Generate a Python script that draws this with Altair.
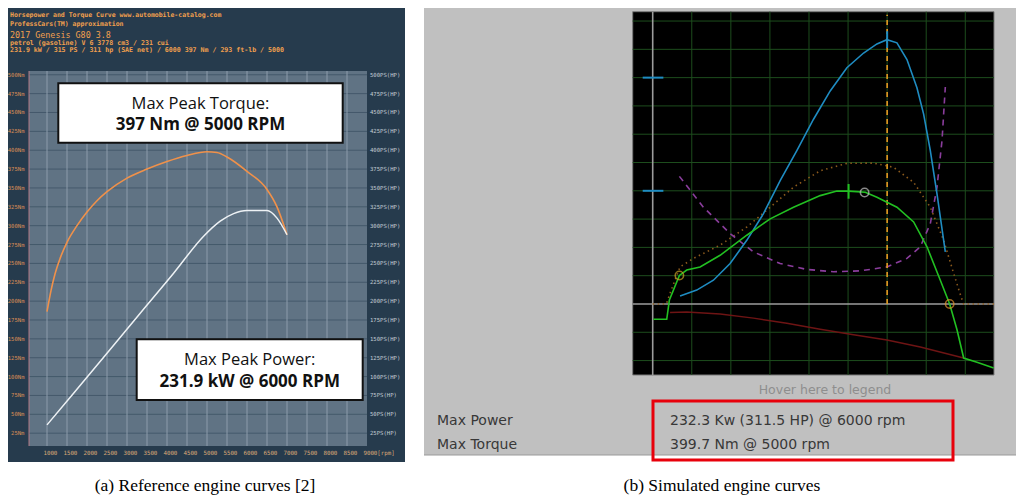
import altair as alt
import pandas as pd

# ---------------- (a) reference engine curves ----------------
ref_torque_rpm = [1000, 1100, 1200, 1330, 1500, 1750, 2000, 2250, 2500, 3000, 3500, 4000, 4500, 5000, 5250, 5500, 6000, 6500, 6750, 7000]
ref_torque_nm = [186, 214, 236, 257, 278, 300, 318, 333, 345, 363, 375, 385, 393, 398, 397, 391, 372, 348, 325, 288]
ref_power_rpm = [1000, 1665, 2500, 3330, 4165, 4915, 5330, 5665, 6000, 6250, 6500, 6750, 7000]
ref_power_ps = [36, 78, 131, 184, 237, 286, 306, 316, 320, 320, 320, 310, 288]

nm_ticks = list(range(25, 501, 25))
rpm_ticks = list(range(1000, 9001, 500))
rpm_grid = list(range(1000, 8501, 500))

header_lines = [
    "Horsepower and Torque Curve www.automobile-catalog.com",
    "ProfessCars(TM) approximation",
    "2017 Genesis G80 3.8",
    "petrol (gasoline) V 6 3778 cm3 / 231 cui",
    "231.9 kW / 315 PS / 311 hp  (SAE net) / 6000 397 Nm / 293 ft-lb / 5000",
]
torque_box = ["Max Peak Torque:", "397 Nm @ 5000 RPM"]
power_box = ["Max Peak Power:", "231.9 kW @ 6000 RPM"]

# ---------------- (b) simulated engine curves ----------------
sim_power_rpm = [700, 1127, 1554, 1981, 2408, 2835, 3262, 3689, 4116, 4543, 4970, 5397, 5739, 5995, 6251, 6507, 6763, 6934, 7105, 7276, 7489]
sim_power_val = [0.28, 0.49, 0.84, 1.43, 2.25, 3.19, 4.36, 5.42, 6.53, 7.53, 8.35, 8.87, 9.19, 9.34, 9.23, 8.64, 7.64, 6.71, 5.42, 3.89, 1.84]

sim_torque_rpm = [17, 359, 427, 530, 683, 871, 1213, 1725, 2408, 3006, 3604, 4287, 4714, 5013, 5440, 5739, 6251, 6678, 7020, 7361, 7600, 7788, 7959, 8300, 8727]
sim_torque_val = [-0.54, -0.54, 0.14, 0.49, 1.01, 1.20, 1.31, 1.72, 2.43, 3.01, 3.42, 3.83, 3.99, 3.99, 3.95, 3.77, 3.42, 2.90, 2.02, 0.84, 0.0, -0.91, -1.91, -2.06, -2.26]

sim_dotted_rpm = [0, 350, 444, 700, 1042, 1725, 2408, 3006, 3604, 4287, 4970, 5653, 6166, 6678, 7105, 7447, 7703, 7891, 7959, 8735]
sim_dotted_val = [0.0, 0.0, 0.38, 1.31, 1.61, 2.08, 2.72, 3.42, 4.13, 4.71, 4.97, 4.98, 4.83, 4.30, 3.42, 2.25, 1.08, 0.26, 0.0, 0.0]

sim_dashed_rpm = [683, 1298, 1981, 2579, 3262, 3945, 4628, 5312, 5995, 6507, 6849, 7105, 7276, 7404, 7489]
sim_dashed_val = [4.51, 3.42, 2.49, 1.84, 1.43, 1.22, 1.14, 1.17, 1.31, 1.61, 2.02, 2.84, 4.13, 5.77, 7.67]

sim_loss_rpm = [444, 871, 1725, 2579, 3433, 4287, 5141, 5995, 6849, 7959]
sim_loss_val = [-0.30, -0.28, -0.35, -0.50, -0.68, -0.89, -1.09, -1.27, -1.52, -1.91]

sim_grid_rpm = [1000, 2000, 3000, 4000, 5000, 6000, 7000, 8000]
sim_grid_val = [-2, -1, 1, 2, 3, 4, 5, 6, 7, 8, 9, 10]

sim_marker_rpm = [683, 5423, 7600]
sim_marker_val = [1.01, 3.94, 0.0]
sim_marker_kind = ["start", "peak", "end"]

sim_blue_ticks_val = [8, 4]
sim_peak_power_rpm = 6000
sim_peak_torque_rpm = 5013

result_labels = ["Max Power", "Max Torque"]
result_values = ["232.3 Kw (311.5 HP) @ 6000 rpm", "399.7 Nm @ 5000 rpm"]
captions = ["(a) Reference engine curves [2]", "(b) Simulated engine curves"]

# ---------------- helpers ----------------
one = pd.DataFrame({"k": [0]})


def series(xs, ys):
    return pd.DataFrame({"x": xs, "y": ys, "i": list(range(len(xs)))})


def rect(x, x2, y, y2, fill, stroke=None, sw=0):
    kw = dict(fill=fill, strokeWidth=sw)
    if stroke:
        kw["stroke"] = stroke
    return alt.Chart(one).mark_rect(**kw).encode(
        x=alt.value(x), x2=alt.value(x2), y=alt.value(y), y2=alt.value(y2))


def text(s, x, y, size, color, font, weight="normal", align="left"):
    return alt.Chart(one).mark_text(
        text=s, fontSize=size, color=color, font=font, fontWeight=weight,
        align=align, baseline="middle").encode(x=alt.value(x), y=alt.value(y))


# ---------------- left panel ----------------
xL = alt.Scale(domain=[550, 9000], range=[21, 359], nice=False, zero=False)
yL = alt.Scale(domain=[8, 505], range=[438, 63], nice=False, zero=False)

dark = rect(0, 397, 0, 454, "#263b4d")
slate = rect(21, 359, 63, 438, "#607384")
left_edge = alt.Chart(one).mark_rule(color="#b07a86", strokeWidth=1).encode(
    x=alt.value(21), y=alt.value(63), y2=alt.value(438))

hgrid = alt.Chart(pd.DataFrame({"v": nm_ticks})).mark_rule(color="#44596b", strokeWidth=1).encode(
    y=alt.Y("v:Q", scale=yL, axis=None), x=alt.value(21), x2=alt.value(359))
vgrid = alt.Chart(pd.DataFrame({"r": rpm_grid})).mark_rule(color="#8c9cab", strokeWidth=1).encode(
    x=alt.X("r:Q", scale=xL, axis=None), y=alt.value(63), y2=alt.value(438))

torque_line = alt.Chart(series(ref_torque_rpm, ref_torque_nm)).mark_line(
    color="#f0914a", strokeWidth=1.6, interpolate="monotone").encode(
    x=alt.X("x:Q", scale=xL, axis=None), y=alt.Y("y:Q", scale=yL, axis=None), order="i:Q")
power_line = alt.Chart(series(ref_power_rpm, ref_power_ps)).mark_line(
    color="#eef2f5", strokeWidth=1.5, interpolate="monotone").encode(
    x=alt.X("x:Q", scale=xL, axis=None), y=alt.Y("y:Q", scale=yL, axis=None), order="i:Q")

nm_df = pd.DataFrame({"v": nm_ticks, "lab": [f"{v}Nm" for v in nm_ticks],
                      "lab2": [f"{v}PS(HP)" for v in nm_ticks]})
nm_labels = alt.Chart(nm_df).mark_text(
    align="right", baseline="middle", fontSize=5.6, font="DejaVu Sans Mono", color="#d98d56").encode(
    y=alt.Y("v:Q", scale=yL, axis=None), x=alt.value(16.5), text="lab:N")
ps_labels = alt.Chart(nm_df).mark_text(
    align="left", baseline="middle", fontSize=5.6, font="DejaVu Sans Mono", color="#c3ccd4").encode(
    y=alt.Y("v:Q", scale=yL, axis=None), x=alt.value(362), text="lab2:N")
rpm_df = pd.DataFrame({"r": rpm_ticks,
                       "lab": [str(r) if r < 9000 else f"{r}[rpm]" for r in rpm_ticks]})
rpm_labels = alt.Chart(rpm_df).mark_text(
    align="left", baseline="middle", fontSize=5.8, font="DejaVu Sans Mono", color="#dba877", dx=-3.6).encode(
    x=alt.X("r:Q", scale=xL, axis=None), y=alt.value(444.5), text="lab:N")

hdr_color = "#f2a04e"
header = [
    text(header_lines[0], 2, 7, 6.5, hdr_color, "DejaVu Sans Mono", "bold"),
    text(header_lines[1], 2, 16, 6.5, hdr_color, "DejaVu Sans Mono", "bold"),
    text(header_lines[2], 2, 26.5, 8.4, hdr_color, "DejaVu Sans Mono"),
    text(header_lines[3], 2, 34.7, 6.6, hdr_color, "DejaVu Sans Mono", "bold"),
    text(header_lines[4], 2, 42.2, 6.6, hdr_color, "DejaVu Sans Mono", "bold"),
]

box1 = rect(50.3, 334.7, 75.3, 134.7, "white", "#111111", 2)
box1_t = [text(torque_box[0], 192.5, 95.5, 16.5, "#111111", "Open Sans", "normal", "center"),
          text(torque_box[1], 192.5, 116.5, 17, "#111111", "Open Sans", "bold", "center")]
box2 = rect(128.7, 354.7, 331.3, 392, "white", "#111111", 2)
box2_t = [text(power_box[0], 241.7, 351.5, 16.5, "#111111", "Open Sans", "normal", "center"),
          text(power_box[1], 241.7, 373.7, 17, "#111111", "Open Sans", "bold", "center")]

left = alt.layer(dark, slate, hgrid, vgrid, left_edge, torque_line, power_line,
                 nm_labels, ps_labels, rpm_labels, *header, box1, *box1_t, box2, *box2_t)

# ---------------- right panel ----------------
xR = alt.Scale(domain=[-512, 8735], range=[624.7, 986], nice=False, zero=False)
yR = alt.Scale(domain=[-2.51, 10.33], range=[367, 3.7], nice=False, zero=False)


def rline(xs, ys, color, width=1.5, dash=None):
    kw = dict(color=color, strokeWidth=width)
    if dash:
        kw["strokeDash"] = dash
    return alt.Chart(series(xs, ys)).mark_line(**kw).encode(
        x=alt.X("x:Q", scale=xR, axis=None), y=alt.Y("y:Q", scale=yR, axis=None), order="i:Q")


gray_bg = rect(416, 1008, 0, 447, "#c0c0c0")
gray_bottom = alt.Chart(one).mark_rule(color="#9a9a9a", strokeWidth=1).encode(
    x=alt.value(416), x2=alt.value(1008), y=alt.value(447))
black = rect(624.7, 986, 3.7, 367, "#000000", "#7a7a7a", 1)

rvgrid = alt.Chart(pd.DataFrame({"r": sim_grid_rpm})).mark_rule(color="#1d4d1d", strokeWidth=1).encode(
    x=alt.X("r:Q", scale=xR, axis=None), y=alt.value(3.7), y2=alt.value(367))
rhgrid = alt.Chart(pd.DataFrame({"v": sim_grid_val})).mark_rule(color="#1d4d1d", strokeWidth=1).encode(
    y=alt.Y("v:Q", scale=yR, axis=None), x=alt.value(624.7), x2=alt.value(986))
axes_df = pd.DataFrame({"r": [0], "v": [0]})
rvaxis = alt.Chart(axes_df).mark_rule(color="#9c9c9c", strokeWidth=1.6).encode(
    x=alt.X("r:Q", scale=xR, axis=None), y=alt.value(3.7), y2=alt.value(367))
rhaxis = alt.Chart(axes_df).mark_rule(color="#9c9c9c", strokeWidth=1.6).encode(
    y=alt.Y("v:Q", scale=yR, axis=None), x=alt.value(624.7), x2=alt.value(986))

loss = rline(sim_loss_rpm, sim_loss_val, "#6e1414", 1.5)
dotted = rline(sim_dotted_rpm, sim_dotted_val, "#8c5a1c", 1.6, [1.5, 3.5])
dashed = rline(sim_dashed_rpm, sim_dashed_val, "#8a3d9c", 1.6, [6, 5])
blue = rline(sim_power_rpm, sim_power_val, "#1f8cc2", 1.6)
green = rline(sim_torque_rpm, sim_torque_val, "#22c022", 1.6)

peak_df = pd.DataFrame({"r": [sim_peak_power_rpm], "v0": [0], "v1": [10.22],
                        "t0": [9.05], "t1": [9.64]})
orange_v = alt.Chart(peak_df).mark_rule(color="#e59a22", strokeWidth=1.6, strokeDash=[5, 4]).encode(
    x=alt.X("r:Q", scale=xR, axis=None), y=alt.Y("v0:Q", scale=yR, axis=None), y2="v1:Q")
blue_peak_tick = alt.Chart(peak_df).mark_rule(color="#1f8cc2", strokeWidth=2).encode(
    x=alt.X("r:Q", scale=xR, axis=None), y=alt.Y("t0:Q", scale=yR, axis=None), y2="t1:Q")
tq_tick_df = pd.DataFrame({"r": [sim_peak_torque_rpm], "t0": [3.72], "t1": [4.24]})
green_peak_tick = alt.Chart(tq_tick_df).mark_rule(color="#22c022", strokeWidth=2).encode(
    x=alt.X("r:Q", scale=xR, axis=None), y=alt.Y("t0:Q", scale=yR, axis=None), y2="t1:Q")
bt_df = pd.DataFrame({"v": sim_blue_ticks_val, "r0": [-256, -256], "r1": [273, 273]})
blue_ticks = alt.Chart(bt_df).mark_rule(color="#1f8cc2", strokeWidth=2).encode(
    y=alt.Y("v:Q", scale=yR, axis=None), x=alt.X("r0:Q", scale=xR, axis=None), x2="r1:Q")

mk_df = pd.DataFrame({"x": sim_marker_rpm, "y": sim_marker_val, "kind": sim_marker_kind})
markers = alt.Chart(mk_df).mark_point(shape="circle", filled=False, size=70, strokeWidth=1.6).encode(
    x=alt.X("x:Q", scale=xR, axis=None), y=alt.Y("y:Q", scale=yR, axis=None),
    color=alt.Color("kind:N", scale=alt.Scale(domain=sim_marker_kind,
                                              range=["#c9a326", "#c4c4c4", "#e0902c"]), legend=None))

hover = text("Hover here to legend", 817, 382, 12.5, "#8e8e8e", "DejaVu Sans", "normal", "center")
res_t = [text(result_labels[0], 429, 413, 14, "#383838", "DejaVu Sans"),
         text(result_labels[1], 429, 437, 14, "#383838", "DejaVu Sans"),
         text(result_values[0], 662, 413, 14, "#383838", "DejaVu Sans"),
         text(result_values[1], 662, 437, 14, "#383838", "DejaVu Sans")]
red_box = rect(645, 945, 393, 452, "transparent", "#e8000b", 3)

right = alt.layer(gray_bg, gray_bottom, black, rvgrid, rhgrid, rvaxis, rhaxis, loss, dotted, dashed,
                  blue, orange_v, green, blue_peak_tick, green_peak_tick, blue_ticks, markers,
                  hover, *res_t, red_box)

cap = [text(captions[0], 197, 478, 17.5, "#000000", "Liberation Serif", "normal", "center"),
       text(captions[1], 714, 478, 17.5, "#000000", "Liberation Serif", "normal", "center")]

chart = alt.layer(left, right, *cap).resolve_scale(
    x="independent", y="independent", color="independent").properties(
    width=1008, height=487, autosize=alt.AutoSizeParams(type="none"), padding=0,
    background="white").configure_view(stroke=None)

chart.save("out.html", embed_options={"renderer": "svg", "actions": False})
